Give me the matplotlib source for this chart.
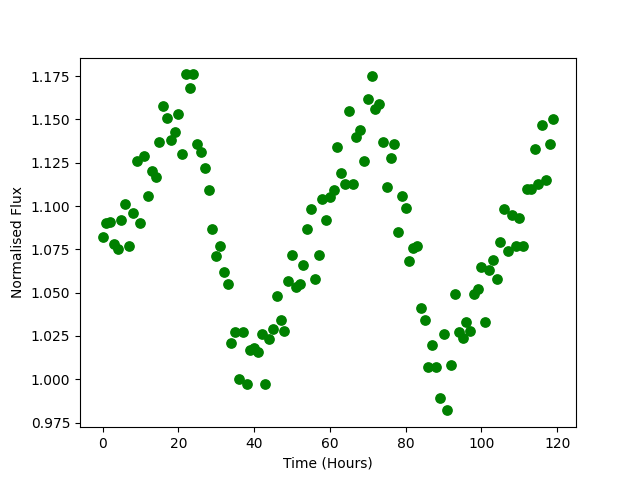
import matplotlib
matplotlib.use("Agg")
import matplotlib.pyplot as plt
import numpy as np

hours = list(range(120))
flux = [1.082, 1.090, 1.091, 1.078, 1.075, 1.092, 1.101, 1.077, 1.096, 1.126,
        1.090, 1.129, 1.106, 1.120, 1.117, 1.137, 1.158, 1.151, 1.138, 1.143,
        1.153, 1.130, 1.176, 1.168, 1.176, 1.136, 1.131, 1.122, 1.109, 1.087,
        1.071, 1.077, 1.062, 1.055, 1.021, 1.027, 1.000, 1.027, 0.997, 1.017,
        1.018, 1.016, 1.026, 0.997, 1.023, 1.029, 1.048, 1.034, 1.028, 1.057,
        1.072, 1.053, 1.055, 1.066, 1.087, 1.098, 1.058, 1.072, 1.104, 1.092,
        1.105, 1.109, 1.134, 1.119, 1.113, 1.155, 1.113, 1.140, 1.144, 1.126,
        1.162, 1.175, 1.156, 1.159, 1.137, 1.111, 1.128, 1.136, 1.085, 1.106,
        1.099, 1.068, 1.076, 1.077, 1.041, 1.034, 1.007, 1.020, 1.007, 0.989,
        1.026, 0.982, 1.008, 1.049, 1.027, 1.024, 1.033, 1.028, 1.049, 1.052,
        1.065, 1.033, 1.063, 1.069, 1.058, 1.079, 1.098, 1.074, 1.095, 1.077,
        1.093, 1.077, 1.110, 1.110, 1.133, 1.113, 1.147, 1.115, 1.136, 1.150]

fig, ax = plt.subplots(figsize=(6.4, 4.8), dpi=100)
ax.scatter(hours, flux, color="green", s=45)
ax.set_xlabel("Time (Hours)")
ax.set_ylabel("Normalised Flux")
fig.savefig("out.png")
